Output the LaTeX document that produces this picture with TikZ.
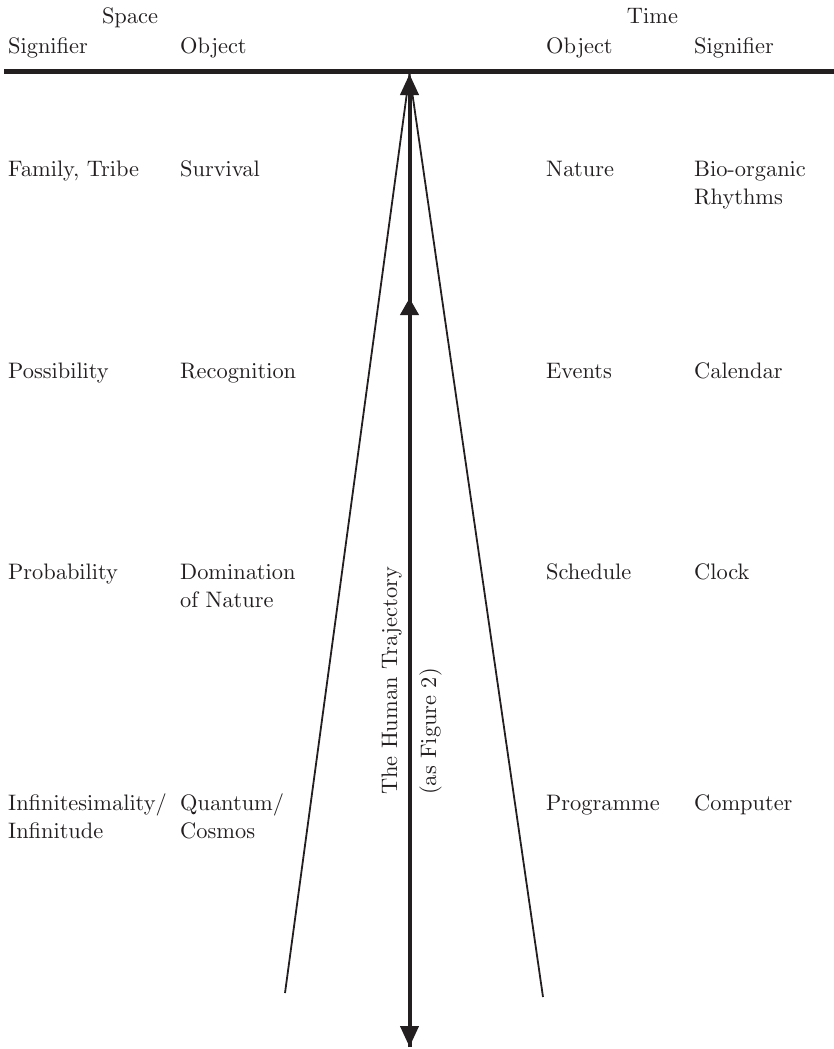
\documentclass[tikz,border=0pt]{standalone}
\usetikzlibrary{arrows.meta}
\definecolor{ink}{RGB}{35,31,32}
% text-size cut of Computer Modern, set large
\font\labfont=cmr10 at 22.4pt
\tikzset{
  headtip/.tip={Triangle[length=21pt,width=18pt]},
  midtip/.tip={Triangle[length=17pt,width=18pt]}}
\begin{document}
\begin{tikzpicture}[x=1pt,y=-1pt,
  label/.style={anchor=base west,inner sep=0pt,align=left,text=ink,
    font={\fontsize{22.4}{28.5}\selectfont\labfont}},
  vlabel/.style={label,rotate=90},
  rule/.style={draw=ink,line width=5pt},
  ray/.style={draw=ink,line width=1.8pt},
  shaft/.style={draw=ink,line width=4pt}]
  \useasboundingbox (0,0) rectangle (834,1049);

  % column headings
  \node[label,anchor=base] (space) at (130,24) {Space};
  \node[label,anchor=base] (time) at (652.5,24) {Time};
  \node[label] (hsig1) at (8,53) {Signifier};
  \node[label] (hobj1) at (180,53) {Object};
  \node[label] (hobj2) at (546,53) {Object};
  \node[label] (hsig2) at (694,53) {Signifier};

  % heading rule
  \coordinate (ruleL) at (4,71.5);
  \coordinate (ruleR) at (834,71.5);
  \draw[rule] (ruleL) -- (ruleR);

  % trajectory points
  \coordinate (apex) at (409.5,74);
  \coordinate (foot) at (409.5,1047);
  \coordinate (mid) at (409.5,298);
  \coordinate (rayL) at (285,993);
  \coordinate (rayR) at (543,997);

  % diverging rays
  \draw[ray] (apex) -- (rayL);
  \draw[ray] (apex) -- (rayR);

  % central double arrow with a mid arrowhead
  \draw[shaft,headtip-headtip] (foot) -- (apex);
  \draw[shaft,-midtip] (foot) -- (mid);

  % rows (two-line labels are placed by the baseline of their last line)
  \node[label] (s1) at (8,176) {Family, Tribe};
  \node[label] (o1) at (180,176) {Survival};
  \node[label] (t1) at (546,176) {Nature};
  \node[label] (g1) at (694,204.5) {Bio-organic\\Rhythms};

  \node[label] (s2) at (8,378) {Possibility};
  \node[label] (o2) at (180,378) {Recognition};
  \node[label] (t2) at (546,378) {Events};
  \node[label] (g2) at (694,378) {Calendar};

  \node[label] (s3) at (8,579) {Probability};
  \node[label] (o3) at (180,607.5) {Domination\\of Nature};
  \node[label] (t3) at (546,579) {Schedule};
  \node[label] (g3) at (694,579) {Clock};

  \node[label] (s4) at (8,838.5) {Infinitesimality/\\Infinitude};
  \node[label] (o4) at (180,838.5) {Quantum/\\Cosmos};
  \node[label] (t4) at (546,810) {Programme};
  \node[label] (g4) at (694,810) {Computer};

  % trajectory caption
  \node[vlabel] (traj) at (397,795) {The Human Trajectory};
  \node[vlabel] (fig) at (436,795) {(as Figure 2)};
\end{tikzpicture}
\end{document}
